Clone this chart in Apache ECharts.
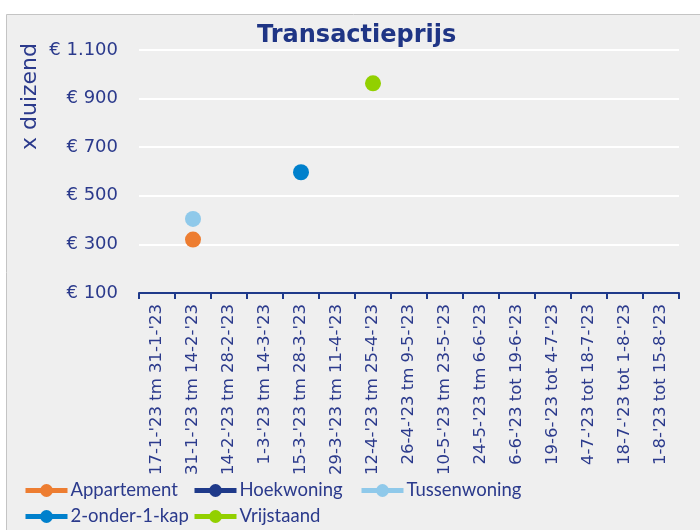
<!DOCTYPE html>
<html><head><meta charset="utf-8">
<script src="https://cdn.jsdelivr.net/npm/echarts@6/dist/echarts.min.js"></script>
<style>html,body{margin:0;padding:0;background:#fff}#c{width:700px;height:530px}</style>
</head><body><div id="c"></div>
<script>
const categories = ["17-1-'23 tm 31-1-'23","31-1-'23 tm 14-2-'23","14-2-'23 tm 28-2-'23","1-3-'23 tm 14-3-'23","15-3-'23 tm 28-3-'23","29-3-'23 tm 11-4-'23","12-4-'23 tm 25-4-'23","26-4-'23 tm 9-5-'23","10-5-'23 tm 23-5-'23","24-5-'23 tm 6-6-'23","6-6-'23 tot 19-6-'23","19-6-'23 tot 4-7-'23","4-7-'23 tot 18-7-'23","18-7-'23 tot 1-8-'23","1-8-'23 tot 15-8-'23"];
const appartement = [null,320,null,null,null,null,null,null,null,null,null,null,null,null,null];
const hoekwoning = [null,null,null,null,null,null,null,null,null,null,null,null,null,null,null];
const tussenwoning = [null,405,null,null,null,null,null,null,null,null,null,null,null,null,null];
const tweeOnderEenKap = [null,null,null,null,597,null,null,null,null,null,null,null,null,null,null];
const vrijstaand = [null,null,null,null,null,null,963,null,null,null,null,null,null,null,null];
const yTicks = [100,300,500,700,900,1100];

const txt = '#2b3a8c';
const names = ['Appartement','Hoekwoning','Tussenwoning','2-onder-1-kap','Vrijstaand'];
const colors = ['#ED7D31','#1F3A8A','#8FC9EA','#0080CC','#92D000'];
const datas = [appartement,hoekwoning,tussenwoning,tweeOnderEenKap,vrijstaand];
const legendPos = [[23,481],[192,481],[359,481],[23,507],[192,507]];

const chart = echarts.init(document.getElementById('c'));
chart.setOption({
  backgroundColor:'#ffffff',
  animation:false,
  graphic:[
    {type:'rect',left:6,top:14,z:-100,silent:true,shape:{width:694,height:516},style:{fill:'#efefef',stroke:'#c4c4c4',lineWidth:1}},
    {type:'text',left:19,top:43,rotation:Math.PI/2,z:10,style:{text:'x duizend',fill:txt,font:'22px "DejaVu Sans"'}}
  ],
  title:{text:'Transactieprijs',left:257,top:24,padding:0,textStyle:{color:'#1f3585',fontFamily:'DejaVu Sans',fontWeight:'bold',fontSize:24}},
  legend: names.map((n,i)=>({data:[n],left:legendPos[i][0],top:legendPos[i][1],padding:0,itemWidth:42,itemHeight:16,itemGap:0,
    lineStyle:{width:5},
    textStyle:{color:txt,fontFamily:'Lato',fontSize:18.5,padding:[0,0,0,-2]}})),
  grid:{left:139,right:21,top:50,bottom:237,containLabel:false},
  xAxis:{type:'category',data:categories,boundaryGap:true,
    axisLine:{lineStyle:{color:'#1f3a8a',width:2}},
    axisTick:{show:true,length:6,lineStyle:{color:'#1f3a8a',width:2}},
    axisLabel:{rotate:90,interval:0,margin:11,color:txt,fontFamily:'DejaVu Sans',fontSize:16.5},
    splitLine:{show:false}},
  yAxis:{type:'value',min:yTicks[0],max:yTicks[yTicks.length-1],interval:yTicks[1]-yTicks[0],startValue:yTicks[0],
    axisLine:{show:false},axisTick:{show:false},
    axisLabel:{margin:21,color:txt,fontFamily:'DejaVu Sans',fontSize:18,
      formatter:v=>'€ '+String(v).replace(/\B(?=(\d{3})+(?!\d))/g,'.')},
    splitLine:{lineStyle:{color:'#ffffff',width:2}}},
  series: names.map((n,i)=>({name:n,type:'line',data:datas[i],connectNulls:false,symbol:'circle',symbolSize:16,
    showSymbol:true,itemStyle:{color:colors[i]},lineStyle:{color:colors[i],width:5}}))
});
</script></body></html>
